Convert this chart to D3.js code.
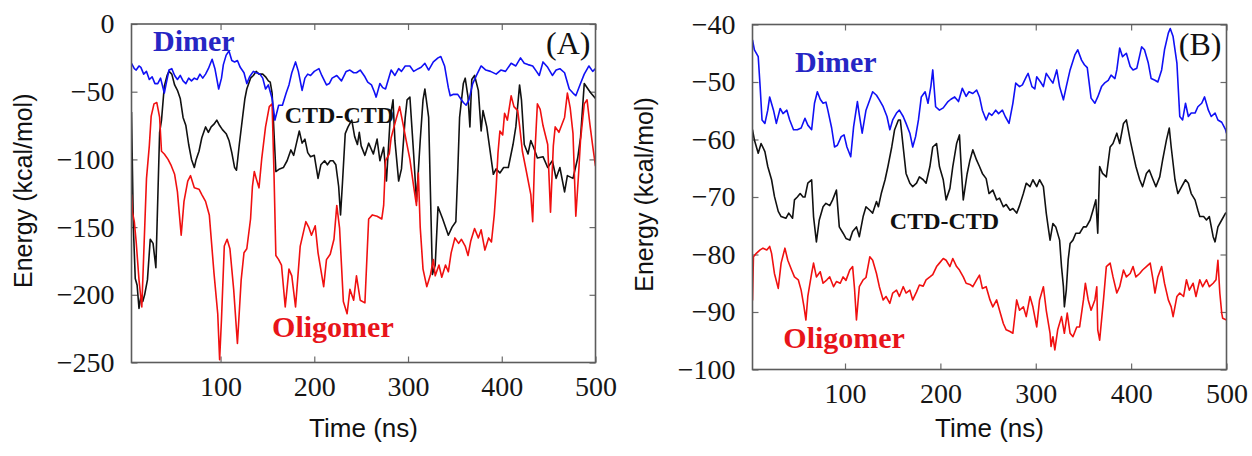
<!DOCTYPE html>
<html>
<head>
<meta charset="utf-8">
<script src="https://cdn.jsdelivr.net/npm/d3@7"></script>
<style>
  html, body { margin: 0; padding: 0; background: #fff; }
  svg { display: block; }
</style>
</head>
<body>
<svg id="chart" width="1252" height="456"></svg>
<script>
// Interaction energy traces, [time (ns), energy (kcal/mol)]

// Panel A
const dimerA = [[5,-29],[8,-33],[10,-34],[13,-31],[15,-32],[18,-37],[21,-35],[24,-41],[27,-39],[30,-44],[33,-44],[36,-40],[40,-51],[42,-44],[45,-34],[48,-33],[51,-38],[54,-41],[57,-38],[60,-42],[63,-44],[66,-40],[69,-42],[72,-40],[75,-41],[78,-37],[81,-40],[84,-37],[87,-33],[91,-26],[94,-33],[98,-48],[101,-40],[103,-30],[106,-23],[109,-20],[112,-27],[115,-28],[118,-27],[121,-32],[125,-36],[128,-44],[131,-39],[135,-35],[138,-36],[142,-37],[145,-40],[148,-48],[151,-45],[155,-55],[158,-71],[162,-60],[166,-60],[170,-51],[173,-45],[176,-36],[180,-28],[183,-35],[187,-49],[190,-40],[193,-37],[196,-38],[200,-35],[205,-33],[208,-38],[213,-45],[216,-44],[219,-40],[224,-38],[229,-42],[234,-35],[238,-34],[242,-36],[245,-36],[249,-34],[254,-39],[257,-43],[261,-45],[264,-50],[266,-54],[270,-44],[273,-47],[276,-48],[279,-41],[282,-34],[286,-38],[290,-33],[293,-35],[297,-31],[302,-31],[306,-35],[311,-33],[314,-32],[318,-29],[322,-34],[327,-28],[332,-25],[335,-24],[339,-31],[343,-47],[345,-53],[348,-52],[353,-52],[356,-55],[359,-58],[362,-60],[365,-56],[369,-44],[373,-38],[378,-31],[383,-34],[388,-35],[394,-37],[399,-34],[404,-35],[410,-29],[415,-31],[420,-25],[424,-29],[428,-30],[433,-31],[437,-35],[440,-38],[444,-28],[449,-32],[454,-38],[458,-34],[462,-33],[467,-36],[472,-48],[476,-51],[479,-53],[484,-44],[488,-37],[493,-31],[497,-35],[500,-33]];

const ctdA = [[5,-65],[7,-150],[9,-188],[11,-193],[13,-210],[15,-201],[17,-205],[19,-200],[22,-189],[25,-159],[28,-162],[31,-180],[33,-130],[35,-80],[37,-71],[40,-46],[43,-38],[45,-35],[48,-37],[51,-45],[54,-49],[57,-55],[60,-69],[63,-75],[66,-89],[69,-100],[72,-106],[74,-100],[77,-94],[80,-84],[84,-76],[87,-80],[90,-76],[93,-74],[96,-71],[99,-75],[102,-78],[106,-81],[109,-86],[112,-95],[115,-106],[117,-108],[120,-89],[124,-66],[126,-55],[128,-48],[132,-40],[135,-38],[138,-35],[141,-37],[145,-37],[148,-39],[151,-42],[153,-43],[155,-51],[157,-80],[159,-109],[163,-107],[167,-106],[171,-101],[175,-93],[178,-97],[181,-88],[184,-79],[187,-88],[190,-85],[193,-95],[196,-98],[200,-97],[204,-114],[207,-104],[211,-101],[214,-104],[217,-101],[220,-101],[223,-104],[226,-120],[228,-141],[230,-118],[233,-81],[236,-76],[240,-71],[243,-83],[246,-89],[248,-80],[250,-90],[254,-97],[258,-88],[263,-96],[267,-85],[270,-101],[274,-91],[277,-116],[281,-69],[284,-56],[286,-86],[290,-116],[293,-107],[297,-69],[299,-56],[302,-54],[306,-96],[309,-131],[313,-86],[316,-56],[318,-48],[322,-69],[326,-185],[329,-178],[332,-135],[337,-144],[343,-156],[347,-150],[351,-146],[353,-110],[355,-69],[359,-44],[361,-40],[364,-54],[366,-76],[368,-41],[371,-38],[375,-49],[378,-79],[380,-64],[384,-76],[387,-91],[391,-111],[394,-107],[398,-110],[402,-106],[407,-106],[412,-89],[415,-76],[419,-45],[421,-56],[424,-89],[428,-96],[431,-86],[435,-93],[438,-99],[444,-98],[449,-106],[454,-101],[458,-114],[462,-106],[467,-124],[470,-112],[476,-114],[481,-99],[484,-84],[488,-44],[492,-48],[495,-51],[500,-55]];

const oligomerA = [[5,-126],[6,-139],[8,-146],[10,-161],[13,-189],[16,-209],[18,-171],[21,-114],[24,-90],[26,-68],[29,-59],[32,-58],[35,-69],[37,-94],[40,-96],[44,-100],[47,-104],[51,-111],[54,-124],[56,-140],[58,-156],[61,-131],[65,-116],[68,-112],[72,-121],[77,-122],[80,-126],[84,-131],[88,-141],[93,-184],[97,-214],[99,-248],[101,-218],[104,-164],[107,-159],[110,-166],[114,-196],[118,-236],[122,-189],[125,-169],[128,-166],[132,-144],[134,-120],[136,-109],[138,-114],[141,-121],[144,-99],[148,-76],[152,-61],[155,-59],[157,-110],[159,-171],[162,-174],[165,-178],[169,-209],[173,-181],[176,-186],[180,-209],[185,-164],[191,-146],[194,-150],[197,-156],[201,-149],[204,-169],[210,-194],[213,-174],[217,-170],[221,-159],[224,-134],[227,-151],[231,-205],[235,-214],[238,-196],[242,-204],[245,-186],[249,-204],[254,-206],[258,-144],[262,-141],[267,-142],[272,-144],[274,-134],[276,-101],[280,-96],[282,-84],[287,-71],[291,-61],[295,-75],[298,-86],[302,-100],[306,-120],[309,-134],[311,-110],[313,-150],[316,-181],[320,-194],[324,-185],[327,-174],[329,-186],[333,-178],[336,-187],[340,-178],[343,-183],[346,-169],[350,-158],[354,-162],[357,-159],[361,-164],[364,-171],[367,-160],[371,-151],[375,-158],[378,-152],[382,-167],[386,-158],[389,-161],[392,-141],[394,-121],[396,-95],[398,-79],[401,-82],[403,-66],[406,-71],[410,-53],[413,-61],[417,-64],[419,-75],[422,-94],[426,-108],[431,-126],[433,-146],[435,-100],[438,-59],[441,-63],[444,-75],[449,-89],[452,-139],[455,-90],[457,-76],[461,-80],[467,-69],[470,-51],[473,-62],[476,-81],[479,-142],[482,-110],[484,-86],[488,-59],[491,-56],[494,-74],[497,-90],[500,-105]];

// Panel B
const dimerB = [[3,-42.7],[5,-44.4],[9,-45.6],[11,-50.8],[13,-56.6],[16,-57.2],[19,-54.9],[21,-52.6],[25,-54.9],[28,-57.2],[32,-54.6],[35,-55.5],[39,-54.9],[42,-56.6],[46,-58.3],[50,-58.3],[54,-58],[58,-56.3],[61,-57.5],[65,-58.3],[68,-53.7],[71,-51.7],[74,-53],[77,-53.7],[80,-53.5],[82,-54.9],[86,-58],[89,-61.3],[92,-61],[96,-59.5],[99,-59.2],[102,-61.3],[106,-63],[109,-57.8],[113,-53.4],[115,-55.7],[118,-58.9],[122,-54.9],[126,-53.1],[129,-51.7],[133,-52.3],[136,-53.1],[140,-54.3],[144,-56],[147,-58.3],[150,-56.6],[154,-55.4],[157,-54.9],[161,-56],[164,-57.2],[168,-58.9],[171,-61.3],[174,-59.5],[177,-56.6],[180,-52.6],[184,-51.7],[187,-53.7],[190,-50.8],[192,-47.9],[195,-54.3],[199,-54.9],[203,-54.5],[208,-53.4],[211,-53],[215,-52.6],[219,-53.4],[223,-51.1],[227,-52.5],[230,-51.7],[234,-52],[238,-51.4],[241,-52.6],[244,-54.9],[248,-56.6],[251,-55.4],[254,-55.8],[258,-54.9],[261,-55.5],[265,-54.9],[268,-56],[272,-57.2],[276,-53.7],[279,-50.2],[283,-50.8],[286,-50.5],[290,-49.1],[292,-48.5],[296,-50.8],[299,-51.2],[301,-49.1],[305,-50],[308,-50.8],[311,-48.5],[315,-49.5],[318,-50.2],[322,-47.9],[325,-50.8],[329,-53.1],[332,-50.8],[336,-47.9],[341,-45.3],[344,-44.4],[348,-46.2],[351,-47],[354,-47.5],[358,-52.8],[362,-53.7],[365,-52.6],[369,-50.8],[372,-50.2],[376,-49.7],[379,-48.8],[383,-49.4],[385,-47.9],[388,-44.1],[391,-45.6],[395,-45],[399,-47.3],[402,-47.9],[406,-47.6],[411,-43.9],[414,-44.4],[418,-46.7],[421,-49.4],[425,-49.7],[428,-50],[432,-47.9],[435,-44.4],[439,-41.5],[441,-40.7],[444,-42.1],[448,-46.7],[451,-56],[454,-56.6],[457,-53.7],[460,-56],[463,-55.4],[467,-55.4],[470,-54.3],[474,-53.7],[477,-52.6],[481,-54.9],[484,-56],[488,-55.4],[491,-56.6],[495,-57],[499,-58.3],[500,-58.9]];

const ctdB = [[3,-58.3],[5,-60.1],[9,-62.4],[12,-60.7],[16,-62.1],[19,-64.7],[23,-67],[26,-69.9],[30,-72.5],[33,-73.4],[38,-73.7],[41,-72.8],[45,-73.7],[47,-70.5],[50,-70],[53,-69.4],[56,-70],[58,-70],[61,-67.6],[65,-67],[67,-73.4],[70,-77.8],[73,-74],[77,-71.7],[80,-71.1],[84,-71.5],[87,-70.5],[91,-68.8],[94,-75.2],[98,-76.3],[101,-77.2],[105,-77.5],[108,-76],[112,-75.2],[115,-76.9],[119,-73.4],[122,-71.7],[126,-72.3],[129,-72.8],[133,-70.8],[135,-71.7],[138,-69.4],[142,-67],[145,-64.7],[149,-61.3],[152,-58.3],[156,-56.6],[158,-56.6],[161,-61.3],[164,-65.9],[168,-67.6],[171,-68.2],[175,-67.6],[178,-66.5],[182,-67],[185,-67.6],[189,-64.7],[192,-61.3],[196,-60.7],[199,-64.7],[203,-67],[206,-70.5],[210,-68.5],[213,-64.7],[217,-60.7],[220,-59.2],[222,-65.3],[224,-70.5],[228,-66],[231,-63.6],[234,-61.8],[238,-63.6],[241,-64.7],[244,-65.9],[248,-66.8],[251,-69.4],[255,-68.8],[259,-70.5],[262,-70.2],[266,-71.7],[269,-71.3],[273,-72.3],[276,-72],[280,-72.8],[283,-71.5],[287,-69.4],[290,-67.6],[294,-68.2],[297,-67],[301,-68.2],[304,-67],[308,-68.2],[311,-72.8],[313,-75.2],[315,-77.5],[318,-74.6],[321,-75.2],[325,-77.5],[327,-82.1],[329,-85.6],[330,-89.1],[332,-86.2],[334,-80.9],[336,-78.1],[339,-77.5],[342,-76.3],[346,-76.3],[350,-75.2],[353,-75.2],[357,-74],[360,-72.3],[363,-70.5],[365,-76.3],[367,-64.7],[370,-65.9],[374,-66.5],[378,-61.3],[381,-60.7],[385,-58.9],[388,-60.7],[392,-57.2],[395,-56.6],[399,-60.1],[402,-62.4],[405,-64.7],[409,-67],[412,-68.2],[416,-65.9],[419,-65.3],[423,-67],[426,-68.2],[430,-66.5],[433,-63.6],[437,-60.1],[440,-58],[442,-61.3],[446,-67],[449,-69.4],[453,-68.2],[457,-67],[460,-67.6],[463,-69.4],[467,-70.5],[470,-72.3],[472,-73.4],[476,-73.4],[479,-74],[482,-73.4],[486,-76.9],[488,-77.8],[491,-75.2],[495,-74],[499,-72.8],[500,-72.8]];

const oligomerB = [[3,-88],[4,-80.4],[7,-79.8],[11,-79.2],[14,-78.9],[18,-79.2],[21,-78.6],[23,-79.8],[26,-83.3],[30,-85.9],[33,-81.5],[37,-78.9],[40,-81],[44,-82.7],[47,-83.9],[51,-84.4],[54,-86.2],[57,-89.1],[59,-91.4],[61,-87.3],[65,-83.3],[67,-81.5],[70,-83.9],[74,-83],[77,-85],[81,-84.4],[84,-83.9],[88,-85.6],[91,-84.7],[95,-85],[98,-83.9],[101,-84.5],[105,-82.7],[108,-82.1],[110,-86],[112,-91.4],[115,-85.6],[119,-84.4],[122,-84],[126,-80.4],[129,-81],[133,-83.3],[136,-85.6],[140,-87.9],[143,-87.3],[147,-88.5],[150,-86.7],[154,-86.2],[157,-87.3],[161,-85.6],[164,-86.7],[168,-86.2],[171,-87.9],[175,-86.5],[178,-85.3],[182,-85.5],[185,-84.4],[189,-83.9],[192,-83.5],[196,-82.1],[199,-81.5],[203,-80.7],[206,-81],[210,-82.1],[213,-80.7],[217,-82.1],[220,-82.7],[224,-83.9],[227,-85],[231,-85.2],[234,-85.6],[238,-84.4],[241,-83.6],[244,-85.9],[248,-85.6],[252,-87.9],[255,-89.1],[259,-87.9],[262,-89.7],[266,-92],[269,-93.1],[273,-93.4],[276,-93.7],[280,-87.9],[283,-89.7],[287,-89.1],[290,-90.8],[294,-87.3],[297,-89.1],[301,-92.6],[304,-87.9],[308,-85.6],[311,-89.7],[315,-93.7],[316,-96],[318,-94.3],[320,-96.6],[323,-93.1],[327,-90.8],[330,-93.7],[333,-90.2],[336,-93.7],[339,-94.3],[343,-92.6],[346,-92.6],[350,-87.9],[352,-85],[355,-87.9],[358,-89.7],[362,-87.9],[364,-85.6],[365,-93.1],[367,-94.9],[371,-87.9],[374,-82.1],[378,-81.5],[381,-83.9],[385,-86.7],[388,-85.6],[392,-82.7],[395,-83.9],[399,-83.3],[402,-82.1],[405,-83.9],[409,-83.3],[412,-82.7],[416,-82.1],[420,-81.5],[423,-84.4],[425,-86.7],[428,-83.9],[432,-82.1],[435,-85],[439,-87.9],[442,-89.1],[444,-90.8],[448,-87.3],[451,-86.7],[455,-87.3],[458,-84.4],[461,-86.2],[465,-85],[468,-87.3],[472,-84.4],[475,-85.6],[479,-84.4],[482,-85.6],[486,-85],[489,-84.4],[491,-81],[493,-86.7],[495,-90.2],[496,-91.1],[500,-91.4]];

// Axis ticks and labels
const timeTicks = [100, 200, 300, 400, 500];
const energyTicksA = [-250, -200, -150, -100, -50, 0];
const energyTicksB = [-100, -90, -80, -70, -60, -50, -40];
const seriesNames = ["CTD-CTD", "Oligomer", "Dimer"];
const panelTags = ["(A)", "(B)"];
const xTitle = "Time (ns)";
const yTitle = "Energy (kcal/mol)";

const colors = {
  "Dimer":    { line: "#1010f5", text: "#2626c4" },
  "CTD-CTD":  { line: "#111111", text: "#111111" },
  "Oligomer": { line: "#f01010", text: "#e8141a" }
};

const panels = [
  {
    tag: panelTags[0],
    left: 131.5, right: 595.5, top: 24, bottom: 362.5,
    xDomain: [5, 500], yDomain: [-250, 0], yTicks: energyTicksA,
    series: [ctdA, oligomerA, dimerA].map((d, i) => ({ name: seriesNames[i], data: d })),
    // label anchors in data space: [name, time, energy, font size]
    labels: [["Dimer", 28, -20, 30], ["CTD-CTD", 168.5, -73, 24], ["Oligomer", 155, -231.5, 30]]
  },
  {
    tag: panelTags[1],
    left: 752.5, right: 1226.5, top: 24.5, bottom: 369.5,
    xDomain: [3, 500], yDomain: [-100, -40], yTicks: energyTicksB,
    series: [ctdB, oligomerB, dimerB].map((d, i) => ({ name: seriesNames[i], data: d })),
    labels: [["Dimer", 47.6, -48.3, 30], ["CTD-CTD", 147, -75.6, 24], ["Oligomer", 35.3, -96.3, 30]]
  }
];

const svg = d3.select("#chart");
const serif = "'Liberation Serif', 'Times New Roman', serif";
const sans = "'Liberation Sans', Arial, sans-serif";
const fmt = d3.format("d");

panels.forEach((p, pi) => {
  const x = d3.scaleLinear().domain(p.xDomain).range([p.left, p.right]);
  const y = d3.scaleLinear().domain(p.yDomain).range([p.bottom, p.top]);
  const g = svg.append("g");

  const clipId = "clip" + pi;
  svg.append("clipPath").attr("id", clipId)
    .append("rect")
    .attr("x", p.left).attr("y", p.top)
    .attr("width", p.right - p.left).attr("height", p.bottom - p.top);

  // axes: inward ticks on all four sides, labels on bottom and left
  const styleAxis = sel => {
    sel.select(".domain").remove();
    sel.selectAll(".tick line").attr("stroke", "#6a6a6a").attr("stroke-width", 1.2);
    sel.selectAll("text").attr("font-family", serif).attr("font-size", 28).attr("fill", "#161616");
  };
  g.append("g").attr("transform", `translate(0,${p.bottom})`)
    .call(d3.axisBottom(x).tickValues(timeTicks).tickSize(-6).tickPadding(14).tickFormat(fmt))
    .call(styleAxis);
  g.append("g").attr("transform", `translate(0,${p.top})`)
    .call(d3.axisTop(x).tickValues(timeTicks).tickSize(-6).tickFormat(""))
    .call(styleAxis);
  g.append("g").attr("transform", `translate(${p.left},0)`)
    .call(d3.axisLeft(y).tickValues(p.yTicks).tickSize(-6).tickPadding(17).tickFormat(fmt))
    .call(styleAxis);
  g.append("g").attr("transform", `translate(${p.right},0)`)
    .call(d3.axisRight(y).tickValues(p.yTicks).tickSize(-6).tickFormat(""))
    .call(styleAxis);

  // traces
  const line = d3.line().x(d => x(d[0])).y(d => y(d[1]));
  g.append("g").attr("clip-path", `url(#${clipId})`)
    .selectAll("path").data(p.series).join("path")
    .attr("d", s => line(s.data))
    .attr("fill", "none")
    .attr("stroke", s => colors[s.name].line)
    .attr("stroke-width", 1.6)
    .attr("stroke-linejoin", "round");

  // frame
  g.append("rect")
    .attr("x", p.left).attr("y", p.top)
    .attr("width", p.right - p.left).attr("height", p.bottom - p.top)
    .attr("fill", "none").attr("stroke", "#5c5c5c").attr("stroke-width", 1.6);

  // series labels
  g.selectAll("text.series").data(p.labels).join("text")
    .attr("class", "series")
    .attr("x", d => x(d[1])).attr("y", d => y(d[2]))
    .attr("font-family", serif).attr("font-weight", "bold")
    .attr("font-size", d => d[3])
    .attr("fill", d => colors[d[0]].text)
    .text(d => d[0]);

  // panel tag
  g.append("text")
    .attr("x", p.right - 5).attr("y", p.top + 30)
    .attr("text-anchor", "end")
    .attr("font-family", serif).attr("font-size", 32).attr("fill", "#111")
    .text(p.tag);

  // axis titles
  g.append("text")
    .attr("x", (p.left + p.right) / 2).attr("y", 437)
    .attr("text-anchor", "middle")
    .attr("font-family", sans).attr("font-size", 26).attr("fill", "#111")
    .text(xTitle);
  const cy = (p.top + p.bottom) / 2 - 2.5;
  g.append("text")
    .attr("transform", `translate(${p.left - 100},${cy}) rotate(-90)`)
    .attr("text-anchor", "middle")
    .attr("font-family", sans).attr("font-size", 25).attr("fill", "#111")
    .text(yTitle);
});
</script>
</body>
</html>
